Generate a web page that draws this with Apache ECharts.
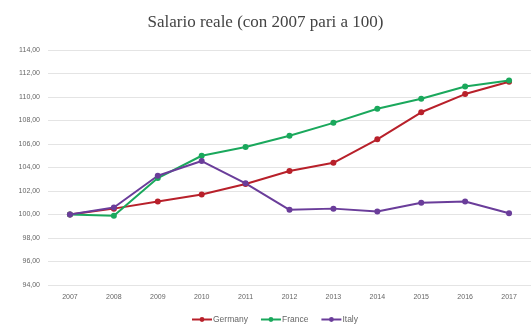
<!DOCTYPE html>
<html>
<head>
<meta charset="utf-8">
<script src="https://cdn.jsdelivr.net/npm/echarts@6/dist/echarts.min.js"></script>
<style>
  html, body { margin: 0; padding: 0; background: #fff; }
  #chart { width: 531px; height: 326px; }
</style>
</head>
<body>
<div id="chart"></div>
<script>
// Real wages, index 2007 = 100
const years = ['2007', '2008', '2009', '2010', '2011', '2012', '2013', '2014', '2015', '2016', '2017'];
const germany = [100.0, 100.5, 101.1, 101.7, 102.6, 103.7, 104.4, 106.4, 108.7, 110.25, 111.3];
const france  = [100.0, 99.9, 103.1, 105.0, 105.75, 106.7, 107.8, 109.0, 109.85, 110.9, 111.4];
const italy   = [100.0, 100.6, 103.3, 104.55, 102.65, 100.4, 100.5, 100.25, 101.0, 101.1, 100.1];

const seriesNames = ['Germany', 'France', 'Italy'];
const seriesColors = ['#b8202a', '#1aa85c', '#6a3d9a'];

const chart = echarts.init(document.getElementById('chart'));

function lineSeries(name, data, color) {
  return {
    name: name,
    type: 'line',
    data: data,
    symbol: 'circle',
    symbolSize: 6,
    lineStyle: { color: color, width: 2 },
    itemStyle: { color: color },
    emphasis: { disabled: true }
  };
}

chart.setOption({
  animation: false,
  title: {
    text: 'Salario reale (con 2007 pari a 100)',
    left: 'center',
    top: 9,
    textStyle: {
      fontFamily: 'Liberation Serif',
      fontWeight: 'normal',
      fontSize: 17,
      color: '#444'
    }
  },
  legend: {
    bottom: -3,
    left: 186,
    itemWidth: 20,
    itemHeight: 6,
    itemGap: 12,
    textStyle: { fontSize: 8.5, color: '#666', fontFamily: 'Liberation Sans', padding: [0, 0, 0, -4] },
    data: seriesNames
  },
  grid: { left: 48, right: 0, top: 50, bottom: 41 },
  xAxis: {
    type: 'category',
    data: years,
    boundaryGap: true,
    axisLine: { show: false },
    axisTick: { show: false },
    axisLabel: { fontSize: 7, color: '#666', fontFamily: 'Liberation Sans', margin: 9 }
  },
  yAxis: {
    type: 'value',
    min: 94,
    max: 114,
    interval: 2,
    axisLine: { show: false },
    axisTick: { show: false },
    splitLine: { lineStyle: { color: '#e4e4e4', width: 1 } },
    axisLabel: {
      fontSize: 7,
      color: '#666',
      fontFamily: 'Liberation Sans',
      margin: 8,
      formatter: v => v.toFixed(2).replace('.', ',')
    }
  },
  series: [
    lineSeries(seriesNames[0], germany, seriesColors[0]),
    lineSeries(seriesNames[1], france, seriesColors[1]),
    lineSeries(seriesNames[2], italy, seriesColors[2])
  ]
});
</script>
</body>
</html>
